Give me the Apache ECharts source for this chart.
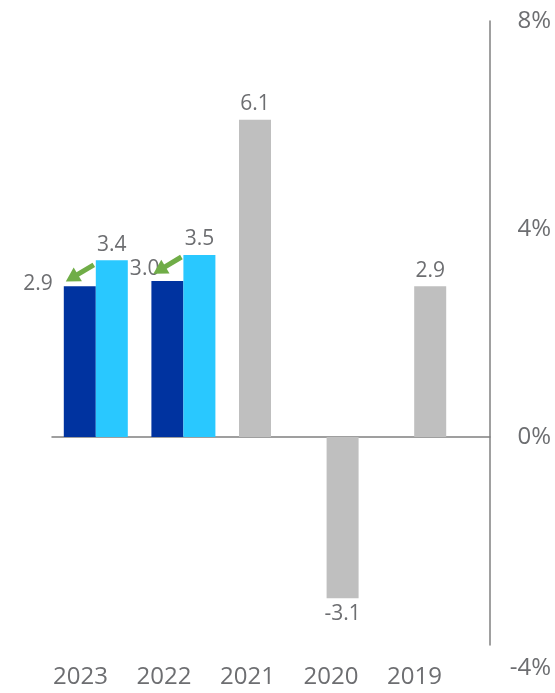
<!DOCTYPE html>
<html>
<head>
<meta charset="utf-8">
<script src="https://cdn.jsdelivr.net/npm/echarts@6/dist/echarts.min.js"></script>
<style>html,body{margin:0;padding:0;background:#fff;}#c{width:555px;height:693px;}</style>
</head>
<body>
<div id="c"></div>
<script>
// ---- data ----
var categories = ['2023', '2022', '2021', '2020', '2019'];
var currentValues = [2.9, 3.0, '-', '-', '-'];     // dark blue
var compareValues = [3.4, 3.5, '-', '-', '-'];     // light blue
var historyValues = ['-', '-', 6.1, -3.1, 2.9];    // gray
var yTicks = [-4, 0, 4, 8];
// arrows: [categoryIndex, fromValue, toValue]
var arrowCats = [0, 1];
var arrowFrom = [3.35, 3.5];
var arrowTo = [2.95, 3.1];

// ---- styles ----
var FONT = 'Open Sans';
var TXT = '#6d6e71';
var AXIS = '#808080';
var currentLabelPos = [[-11, -2], [8, -12]];

var chart = echarts.init(document.getElementById('c'), null, {renderer: 'canvas'});

var currentData = currentValues.map(function (v, i) {
  var item = {value: v};
  if (currentLabelPos[i]) {
    item.label = {show: true, position: currentLabelPos[i], align: 'right', verticalAlign: 'middle'};
  }
  return item;
});

var arrowData = arrowCats.map(function (c, i) { return [c, arrowFrom[i], arrowTo[i]]; });

function renderArrow(params, api) {
  var p0 = api.coord([api.value(0), api.value(1)]);
  var p1 = api.coord([api.value(0), api.value(2)]);
  var sx = p0[0] - 2, sy = p0[1] + 2;
  var tx = p1[0] - 30, ty = p1[1] - 2;
  var dx = tx - sx, dy = ty - sy;
  var len = Math.sqrt(dx * dx + dy * dy);
  var ux = dx / len, uy = dy / len;
  var headL = 14, headW = 8;
  var bx = tx - ux * headL, by = ty - uy * headL;
  var nx = -uy, ny = ux;
  return {
    type: 'group',
    children: [
      {type: 'line', shape: {x1: sx, y1: sy, x2: bx + ux * 2, y2: by + uy * 2},
        style: {stroke: '#70AD47', lineWidth: 5, lineCap: 'butt'}},
      {type: 'polygon', shape: {points: [[tx, ty], [bx + nx * headW, by + ny * headW], [bx - nx * headW, by - ny * headW]]},
        style: {fill: '#70AD47'}}
    ]
  };
}

var option = {
  backgroundColor: '#ffffff',
  animation: false,
  textStyle: {fontFamily: FONT},
  grid: [
    {left: 52, right: 65, top: 21, bottom: 48, containLabel: false},
    {left: 38.75, width: 417.5, top: 21, bottom: 48, containLabel: false}
  ],
  xAxis: [
    {type: 'category', data: categories, gridIndex: 0,
      axisLine: {onZero: true, lineStyle: {color: AXIS, width: 1.5}},
      axisTick: {show: false}, axisLabel: {show: false}, splitLine: {show: false}},
    {type: 'category', data: categories, gridIndex: 1,
      axisLine: {show: false}, axisTick: {show: false}, splitLine: {show: false},
      axisLabel: {show: true, margin: 20, fontSize: 24, color: TXT, fontFamily: FONT}}
  ],
  yAxis: [
    {type: 'value', gridIndex: 0, position: 'right', min: -4, max: 8, interval: 4,
      axisLine: {show: true, lineStyle: {color: AXIS, width: 1.5}},
      axisTick: {show: false}, splitLine: {show: false},
      axisLabel: {
        show: true, align: 'right', margin: 61, fontSize: 24, color: TXT, fontFamily: FONT,
        formatter: function (v) {
          return v === yTicks[0] ? '{low|' + v + '%}' : v + '%';
        },
        rich: {low: {padding: [46, 0, 0, 0], fontSize: 24, color: TXT, fontFamily: FONT}}
      }},
    {type: 'value', gridIndex: 1, show: false, min: -4, max: 8}
  ],
  series: [
    {name: 'current', type: 'bar', stack: 'a', barWidth: 32, barGap: '0%',
      xAxisIndex: 0, yAxisIndex: 0, data: currentData,
      itemStyle: {color: '#0033A0'},
      label: {show: false, fontSize: 21, color: TXT, fontFamily: FONT,
        formatter: function (p) { return p.value.toFixed(1); }}},
    {name: 'history', type: 'bar', stack: 'a', barWidth: 32, barGap: '0%',
      xAxisIndex: 0, yAxisIndex: 0,
      data: historyValues.map(function (v) {
        if (typeof v === 'number' && v < 0) return {value: v, label: {position: 'bottom'}};
        return v;
      }),
      itemStyle: {color: '#BFBFBF'},
      label: {show: true, position: 'top', distance: 5, fontSize: 21, color: TXT, fontFamily: FONT,
        formatter: function (p) { return p.value.toFixed(1); }}},
    {name: 'compare', type: 'bar', barWidth: 32, barGap: '0%',
      xAxisIndex: 0, yAxisIndex: 0, data: compareValues,
      itemStyle: {color: '#29C8FF'},
      label: {show: true, position: 'top', distance: 5, fontSize: 21, color: TXT, fontFamily: FONT,
        formatter: function (p) { return p.value.toFixed(1); }}},
    {name: 'arrows', type: 'custom', xAxisIndex: 0, yAxisIndex: 0, silent: true, z: 10,
      renderItem: renderArrow, data: arrowData, encode: {x: 0, y: [1, 2]}}
  ]
};
chart.setOption(option);
</script>
</body>
</html>
